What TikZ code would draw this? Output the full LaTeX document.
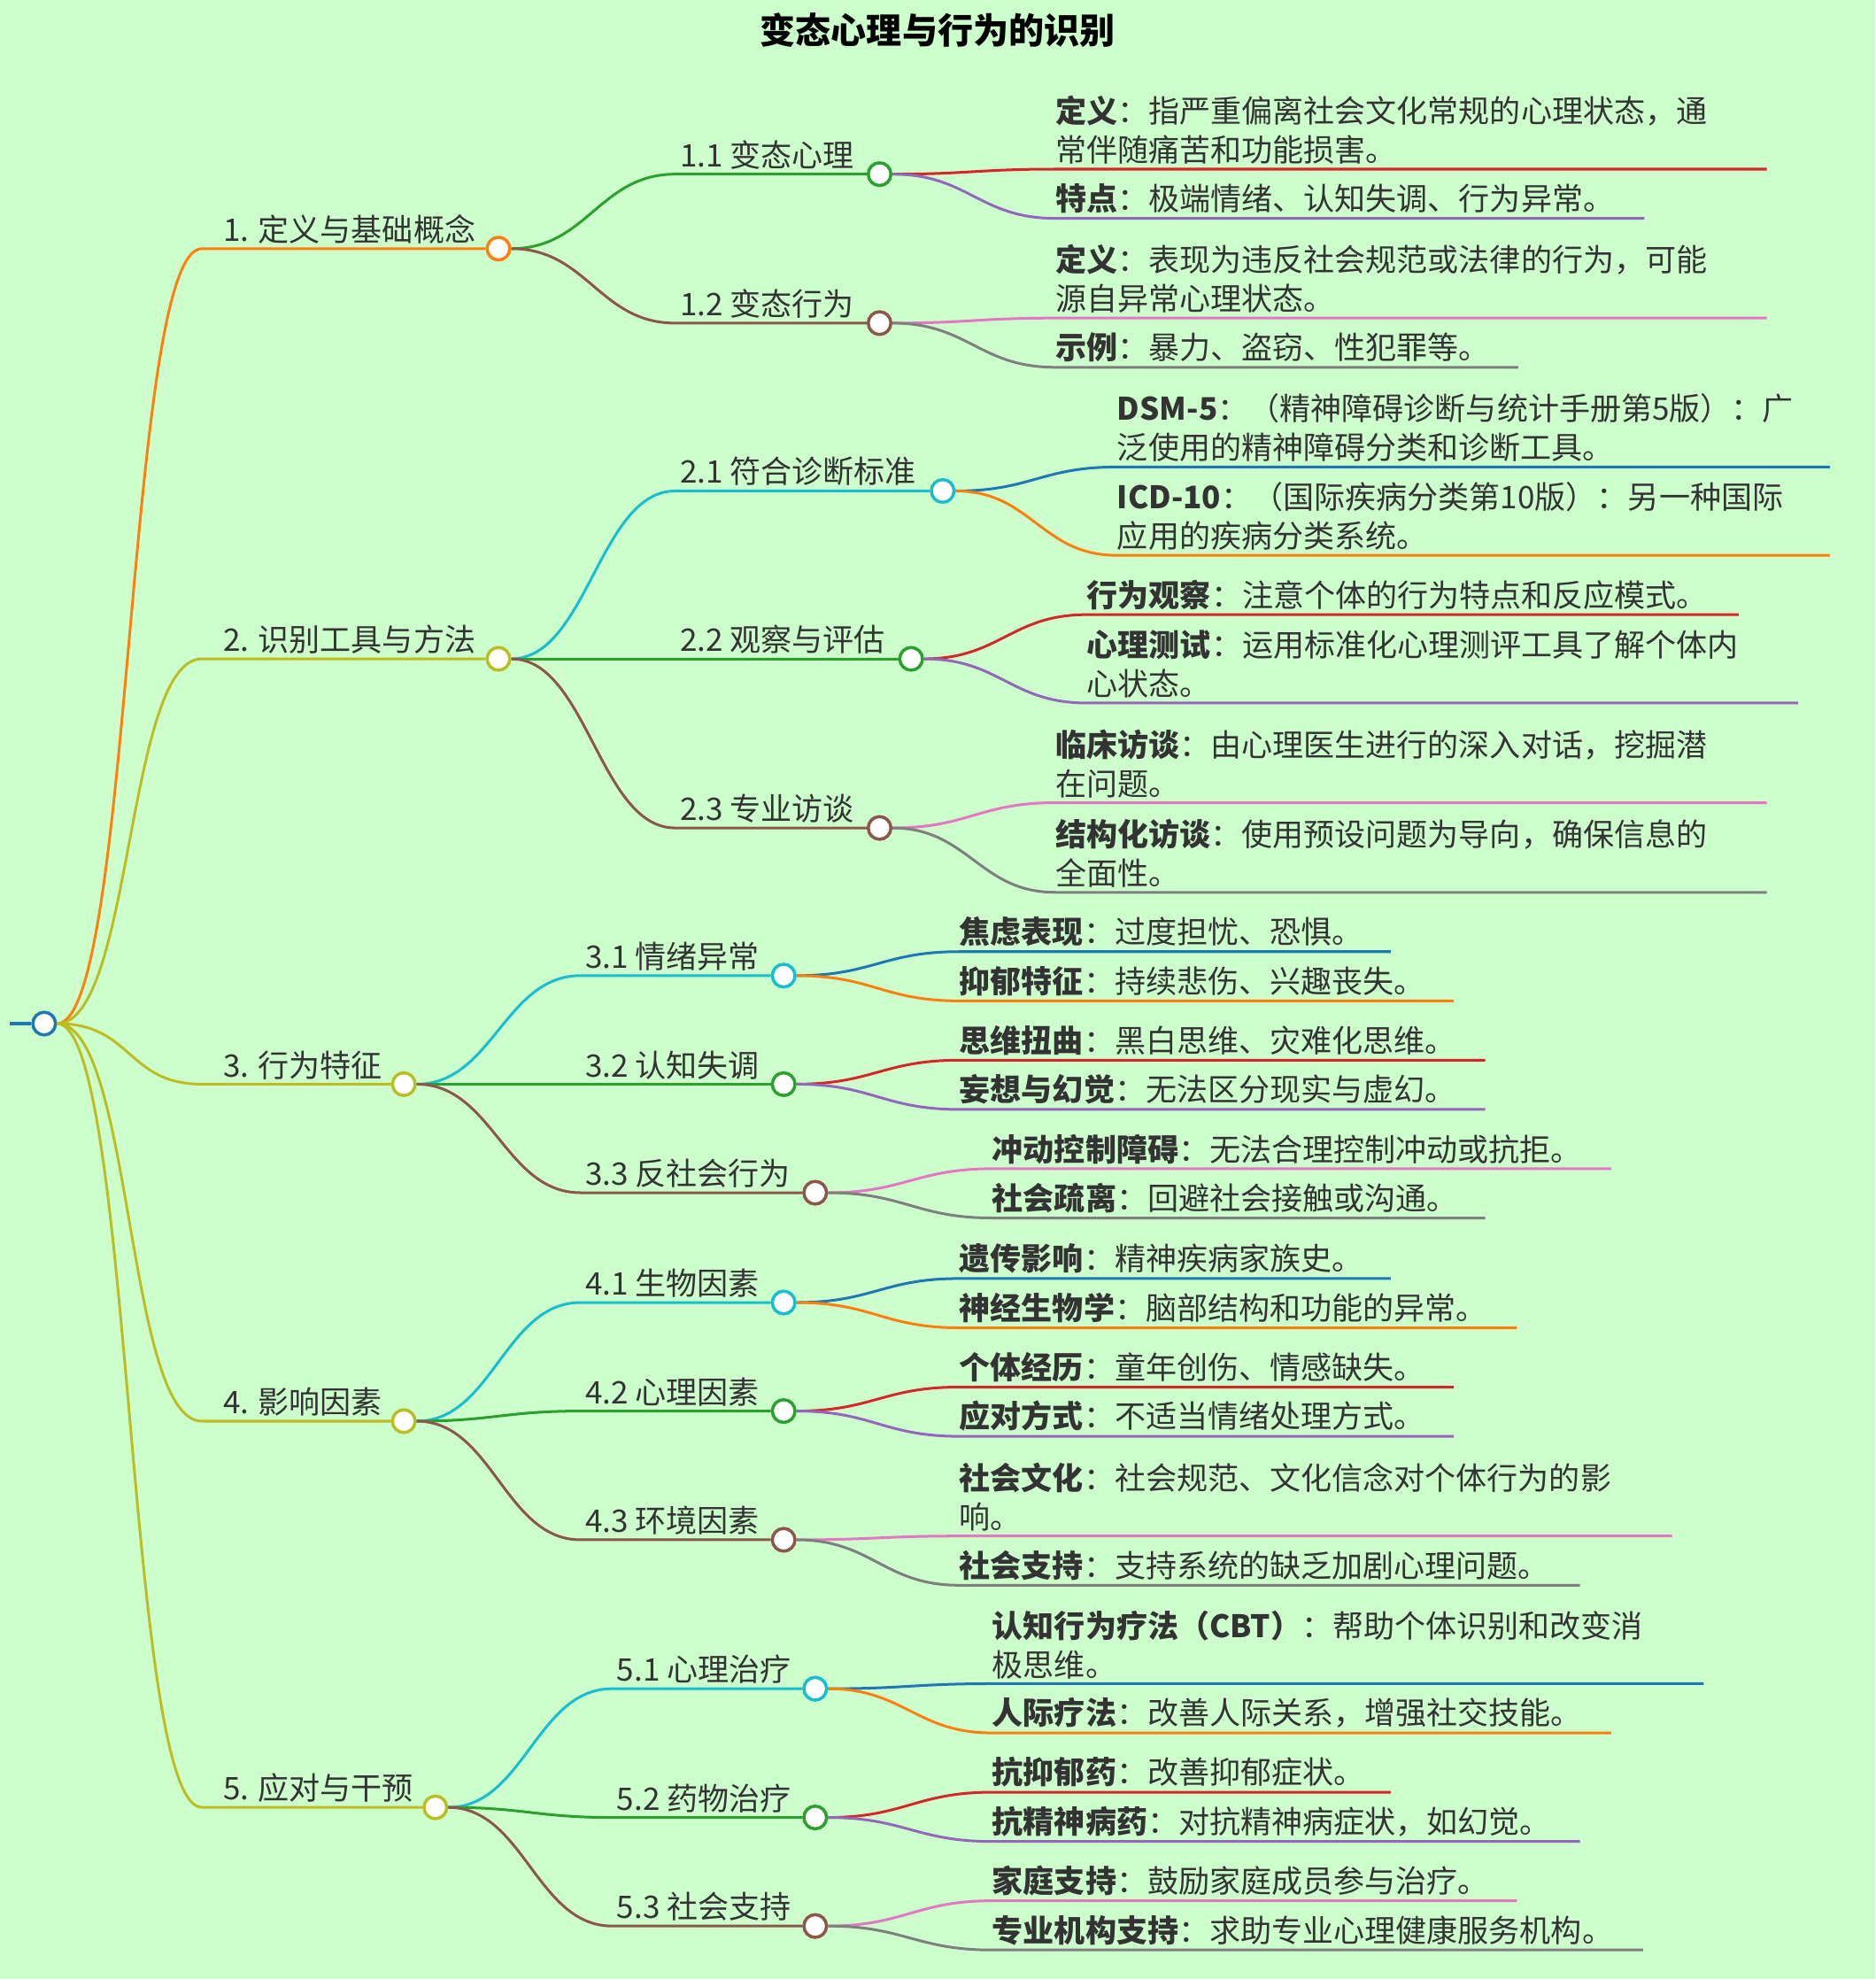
\documentclass[tikz,border=0pt]{standalone}
\usepackage{fontspec}
\setmainfont{Noto Sans CJK SC}
\usepackage{tikz}
\usetikzlibrary{calc}

\definecolor{bgc}{HTML}{CCFFCC}
\definecolor{txt}{HTML}{333333}
\definecolor{cblue}{HTML}{1F77B4}
\definecolor{corange}{HTML}{FF7F0E}
\definecolor{cgreen}{HTML}{2CA02C}
\definecolor{cred}{HTML}{D62728}
\definecolor{cpurple}{HTML}{9467BD}
\definecolor{cbrown}{HTML}{8C564B}
\definecolor{cpink}{HTML}{E377C2}
\definecolor{cgray}{HTML}{7F7F7F}
\definecolor{colive}{HTML}{BCBD22}
\definecolor{ccyan}{HTML}{17BECF}

% branch: name, colour, parent, start x, y, circle x, text
\newcommand{\branch}[7]{
  \coordinate (#1s) at (#4,#5);
  \node [knot, draw=#2] (#1) at (#6,#5) {};
  \draw [edge, #2] (#3.east) .. controls ($(#3.east)+(60,0)$) and ($(#1s)-(60,0)$) .. (#1s) -- (#1.west);
  \node [lbl, anchor=south west] (#1t) at (#1s) {#7};
}
% leaf: name, colour, parent, start x, y, end x, bold part, rest
\newcommand{\leaf}[8]{
  \coordinate (#1s) at (#4,#5);
  \coordinate (#1e) at (#6,#5);
  \draw [edge, #2] (#3.east) .. controls ($(#3.east)+(60,0)$) and ($(#1s)-(60,0)$) .. (#1s) -- (#1e);
  \node [lbl, anchor=south west, inner xsep=0pt] (#1t) at (#1s) {\textbf{#7}：#8};
}

\begin{document}
\begin{tikzpicture}[x=0.02cm, y=-0.02cm,
  knot/.style={circle, fill=white, line width=1.4pt, minimum size=0.36cm, inner sep=0pt},
  edge/.style={line width=1.2pt},
  lbl/.style={text=txt, font=\fontsize{14}{17.6}\selectfont, align=left, inner sep=2pt}]
  \fill [bgc] (0,0) rectangle (1486,1568);
  \useasboundingbox (0,0) rectangle (1486,1568);

  \node [font=\fontsize{16}{19}\selectfont\bfseries] (title) at (743,24) {变态心理与行为的识别};

  % root
  \coordinate (rootin) at (8,811);
  \node [knot, draw=cblue] (root) at (35,811) {};
  \draw [edge, cblue] (rootin) -- (root.west);

  % main branches
  \branch{d1}{corange}{root}{160}{197}{395}{\hspace{0.26cm}1. 定义与基础概念}
  \branch{d2}{colive}{root}{160}{522}{395}{\hspace{0.26cm}2. 识别工具与方法}
  \branch{d3}{colive}{root}{160}{859}{320}{\hspace{0.26cm}3. 行为特征}
  \branch{d4}{colive}{root}{160}{1126}{320}{\hspace{0.26cm}4. 影响因素}
  \branch{d5}{colive}{root}{160}{1432}{345}{\hspace{0.26cm}5. 应对与干预}

  % sub branches
  \branch{a11}{cgreen}{d1}{535}{138}{697}{1.1 变态心理}
  \branch{a12}{cbrown}{d1}{535}{256}{697}{1.2 变态行为}
  \branch{a21}{ccyan}{d2}{535}{389}{747}{2.1 符合诊断标准}
  \branch{a22}{cgreen}{d2}{535}{522}{722}{2.2 观察与评估}
  \branch{a23}{cbrown}{d2}{535}{656}{697}{2.3 专业访谈}
  \branch{a31}{ccyan}{d3}{460}{773}{621}{3.1 情绪异常}
  \branch{a32}{cgreen}{d3}{460}{859}{621}{3.2 认知失调}
  \branch{a33}{cbrown}{d3}{460}{945}{646}{3.3 反社会行为}
  \branch{a41}{ccyan}{d4}{460}{1032}{621}{4.1 生物因素}
  \branch{a42}{cgreen}{d4}{460}{1118}{621}{4.2 心理因素}
  \branch{a43}{cbrown}{d4}{460}{1220}{621}{4.3 环境因素}
  \branch{a51}{ccyan}{d5}{485}{1338}{646}{5.1 心理治疗}
  \branch{a52}{cgreen}{d5}{485}{1440}{646}{5.2 药物治疗}
  \branch{a53}{cbrown}{d5}{485}{1526}{646}{5.3 社会支持}

  % leaves
  \leaf{l111}{cred}{a11}{836}{134}{1400}{定义}{指严重偏离社会文化常规的心理状态，通\\常伴随痛苦和功能损害。}
  \leaf{l112}{cpurple}{a11}{836}{173}{1303}{特点}{极端情绪、认知失调、行为异常。}
  \leaf{l121}{cpink}{a12}{836}{252}{1400}{定义}{表现为违反社会规范或法律的行为，可能\\源自异常心理状态。}
  \leaf{l122}{cgray}{a12}{836}{291}{1203}{示例}{暴力、盗窃、性犯罪等。}
  \leaf{l211}{cblue}{a21}{885}{370}{1450}{DSM-5}{（精神障碍诊断与统计手册第5版）：广\\泛使用的精神障碍分类和诊断工具。}
  \leaf{l212}{corange}{a21}{885}{440}{1450}{ICD-10}{（国际疾病分类第10版）：另一种国际\\应用的疾病分类系统。}
  \leaf{l221}{cred}{a22}{861}{487}{1378}{行为观察}{注意个体的行为特点和反应模式。}
  \leaf{l222}{cpurple}{a22}{861}{557}{1425}{心理测试}{运用标准化心理测评工具了解个体内\\心状态。}
  \leaf{l231}{cpink}{a23}{836}{636}{1400}{临床访谈}{由心理医生进行的深入对话，挖掘潜\\在问题。}
  \leaf{l232}{cgray}{a23}{836}{707}{1400}{结构化访谈}{使用预设问题为导向，确保信息的\\全面性。}
  \leaf{l311}{cblue}{a31}{760}{754}{1102}{焦虑表现}{过度担忧、恐惧。}
  \leaf{l312}{corange}{a31}{760}{793}{1152}{抑郁特征}{持续悲伤、兴趣丧失。}
  \leaf{l321}{cred}{a32}{760}{840}{1177}{思维扭曲}{黑白思维、灾难化思维。}
  \leaf{l322}{cpurple}{a32}{760}{879}{1177}{妄想与幻觉}{无法区分现实与虚幻。}
  \leaf{l331}{cpink}{a33}{786}{926}{1277}{冲动控制障碍}{无法合理控制冲动或抗拒。}
  \leaf{l332}{cgray}{a33}{786}{965}{1177}{社会疏离}{回避社会接触或沟通。}
  \leaf{l411}{cblue}{a41}{760}{1013}{1102}{遗传影响}{精神疾病家族史。}
  \leaf{l412}{corange}{a41}{760}{1052}{1202}{神经生物学}{脑部结构和功能的异常。}
  \leaf{l421}{cred}{a42}{760}{1099}{1152}{个体经历}{童年创伤、情感缺失。}
  \leaf{l422}{cpurple}{a42}{760}{1138}{1152}{应对方式}{不适当情绪处理方式。}
  \leaf{l431}{cpink}{a43}{760}{1217}{1325}{社会文化}{社会规范、文化信念对个体行为的影\\响。}
  \leaf{l432}{cgray}{a43}{760}{1256}{1252}{社会支持}{支持系统的缺乏加剧心理问题。}
  \leaf{l511}{cblue}{a51}{786}{1334}{1350}{认知行为疗法（CBT）}{帮助个体识别和改变消\\极思维。}
  \leaf{l512}{corange}{a51}{786}{1373}{1277}{人际疗法}{改善人际关系，增强社交技能。}
  \leaf{l521}{cred}{a52}{786}{1420}{1102}{抗抑郁药}{改善抑郁症状。}
  \leaf{l522}{cpurple}{a52}{786}{1459}{1252}{抗精神病药}{对抗精神病症状，如幻觉。}
  \leaf{l531}{cpink}{a53}{786}{1506}{1202}{家庭支持}{鼓励家庭成员参与治疗。}
  \leaf{l532}{cgray}{a53}{786}{1545}{1302}{专业机构支持}{求助专业心理健康服务机构。}
\end{tikzpicture}
\end{document}
